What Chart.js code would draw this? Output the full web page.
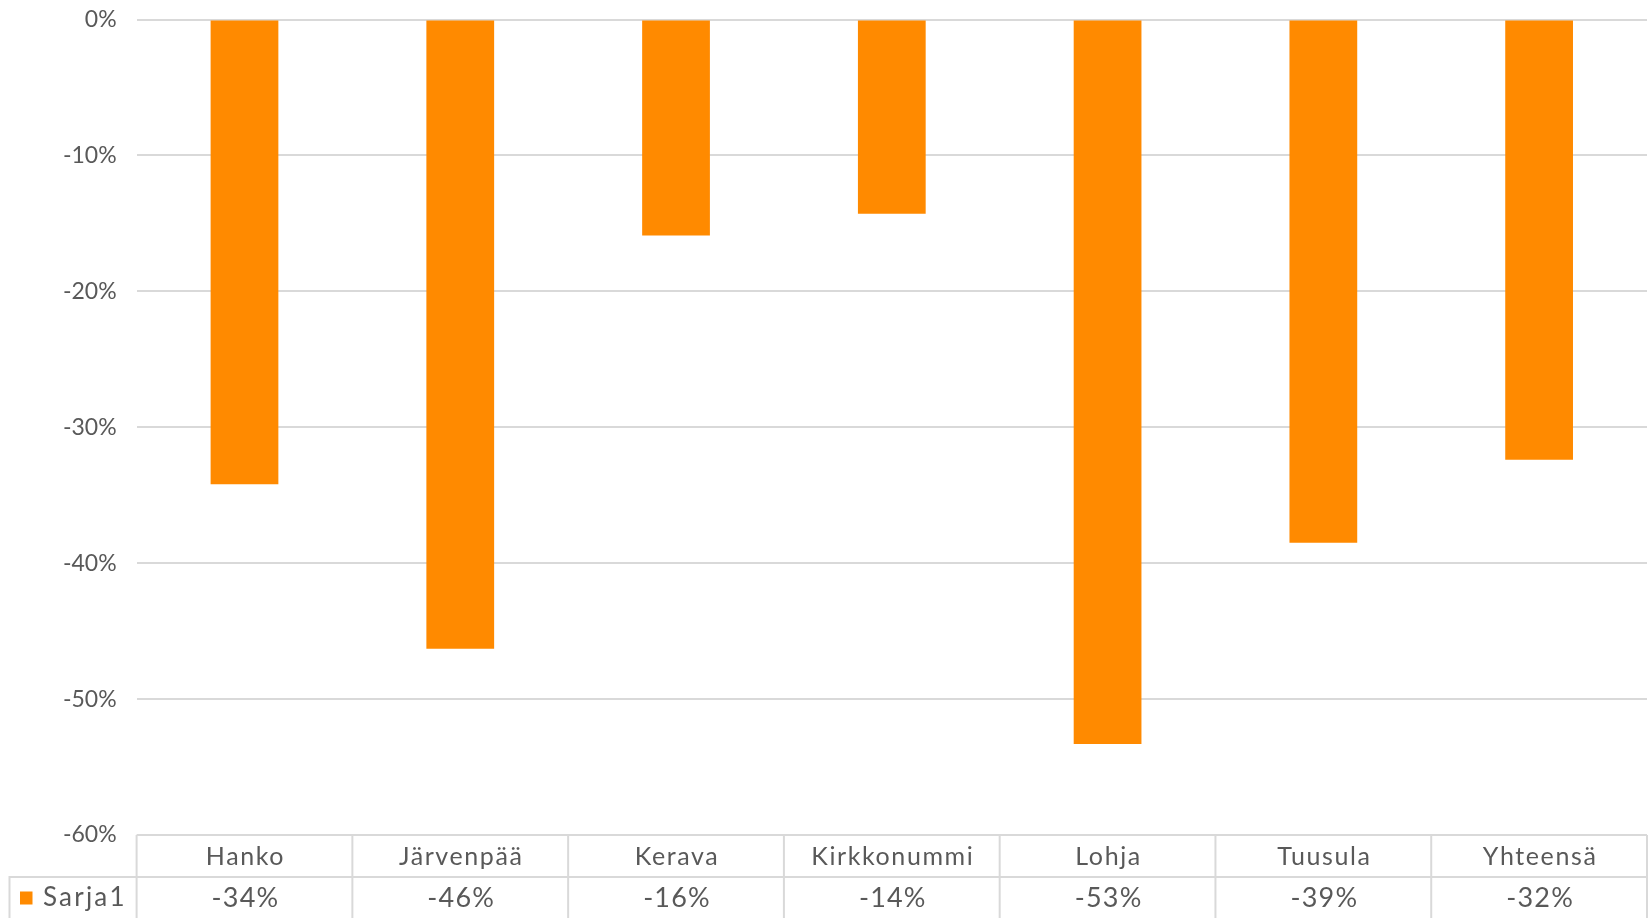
<!DOCTYPE html>
<html>
<head>
<meta charset="utf-8">
<script src="https://cdn.jsdelivr.net/npm/chart.js@4.4.1/dist/chart.umd.min.js"></script>
<style>
html,body{margin:0;padding:0;background:#fff;}
#wrap{width:1648px;height:918px;position:relative;}
</style>
</head>
<body>
<div id="wrap"><canvas id="c" width="1648" height="918"></canvas></div>
<script>
const categories = ['Hanko','Järvenpää','Kerava','Kirkkonummi','Lohja','Tuusula','Yhteensä'];
const seriesName = 'Sarja1';
const values = [-34.2, -46.3, -15.9, -14.3, -53.3, -38.5, -32.4];
const tableLabels = ['-34%','-46%','-16%','-14%','-53%','-39%','-32%'];
const yTicks = [0, -10, -20, -30, -40, -50, -60];

const FONT = 'Lato, "Open Sans", sans-serif';
const TEXT = '#595959';
const LINE = '#d9d9d9';
const BAR = '#FF8A00';
const TICK_SIZE = 23;

const tablePlugin = {
  id: 'dataTable',
  afterDraw(chart) {
    const ctx = chart.ctx;
    const x = chart.scales.x;
    const area = chart.chartArea;
    const n = categories.length;
    const w = (x.right - x.left) / n;
    const top = area.bottom;
    const rowH = 42;
    const mid = top + rowH;
    const bottom = chart.height;
    const legendLeft = 9.5;
    ctx.save();
    ctx.strokeStyle = LINE;
    ctx.lineWidth = 2;
    ctx.beginPath();
    ctx.moveTo(x.left, top); ctx.lineTo(x.right, top);
    ctx.moveTo(legendLeft - 1, mid); ctx.lineTo(x.right, mid);
    for (let i = 0; i <= n; i++) {
      const px = x.left + i * w;
      ctx.moveTo(px, top); ctx.lineTo(px, bottom);
    }
    ctx.moveTo(legendLeft, mid); ctx.lineTo(legendLeft, bottom);
    ctx.stroke();

    ctx.fillStyle = TEXT;
    ctx.textAlign = 'center';
    ctx.textBaseline = 'middle';
    ctx.font = '25px ' + FONT;
    if ('letterSpacing' in ctx) ctx.letterSpacing = '1.6px';
    for (let i = 0; i < n; i++) {
      ctx.fillText(categories[i], x.getPixelForValue(i) + 1, top + rowH / 2 + 1);
    }
    ctx.font = '27px ' + FONT;
    if ('letterSpacing' in ctx) ctx.letterSpacing = '1.2px';
    for (let i = 0; i < n; i++) {
      ctx.fillText(tableLabels[i], x.getPixelForValue(i) + 1, mid + rowH / 2);
    }
    ctx.fillStyle = BAR;
    ctx.fillRect(20, mid + rowH / 2 - 6.5, 12.5, 13);
    ctx.fillStyle = TEXT;
    ctx.textAlign = 'left';
    ctx.font = '26px ' + FONT;
    if ('letterSpacing' in ctx) ctx.letterSpacing = '2.2px';
    ctx.fillText(seriesName, 43, mid + rowH / 2);
    ctx.restore();
  }
};

new Chart(document.getElementById('c'), {
  type: 'bar',
  data: {
    labels: categories,
    datasets: [{
      label: seriesName,
      data: values,
      backgroundColor: BAR,
      borderWidth: 0,
      categoryPercentage: 1,
      barPercentage: 0.314
    }]
  },
  options: {
    responsive: false,
    animation: false,
    devicePixelRatio: 1,
    layout: { padding: { top: 19.5, bottom: 83, left: 0, right: 1 } },
    plugins: { legend: { display: false }, tooltip: { enabled: false } },
    scales: {
      x: { display: false },
      y: {
        min: -60, max: 0,
        afterFit(s) { s.width = 136.6; s.paddingTop = 0; s.paddingBottom = 0; },
        afterBuildTicks(s) { s.ticks = yTicks.map(v => ({ value: v })); },
        ticks: {
          color: TEXT,
          font: { family: FONT, size: TICK_SIZE },
          padding: 20,
          callback: v => v + '%'
        },
        grid: { color: LINE, lineWidth: 2, drawTicks: false },
        border: { display: false }
      }
    }
  },
  plugins: [tablePlugin]
});
</script>
</body>
</html>
